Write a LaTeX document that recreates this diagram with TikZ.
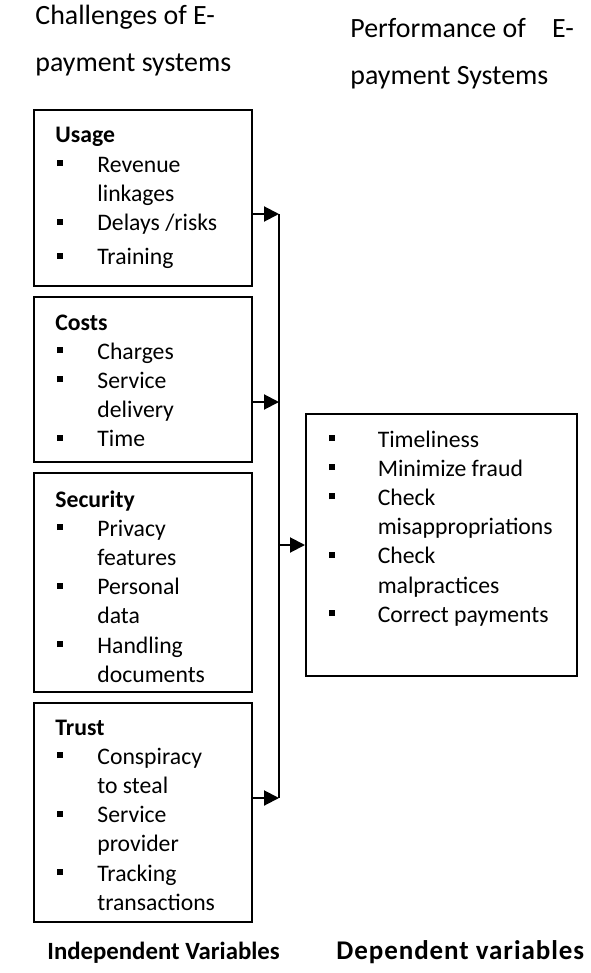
\documentclass[tikz,border=0pt]{standalone}
\usepackage{fontspec}
\setmainfont{Carlito}
\usetikzlibrary{arrows.meta}

\newcommand{\bul}[1][21pt]{\makebox[#1][l]{\hspace{1pt}\rule[3pt]{3pt}{3pt}}}
\newcommand{\cont}[1][21pt]{\hspace*{#1}}
\newcommand{\lst}[1]{\parbox[t]{140pt}{#1}}

\begin{document}
\begin{tikzpicture}[x=0.5pt, y=-0.5pt,
  box/.style={draw, line width=1pt, rectangle, inner sep=0pt, minimum width=109pt},
  txt/.style={anchor=base west, inner sep=0pt, font=\fontsize{11.85pt}{14.6pt}\selectfont},
  head/.style={anchor=base west, inner sep=0pt, font=\fontsize{13.95pt}{23.5pt}\selectfont},
  foot/.style={anchor=base west, inner sep=0pt, font=\fontsize{12.4pt}{15pt}\selectfont\bfseries},
  line/.style={line width=1pt},
  arr/.style={line width=1pt, -{Triangle[length=7.5pt, width=7.5pt]}}]

\useasboundingbox (0,0) rectangle (590,973);

% headings
\node[head] (hleft) at (35,24.5) {\lst{Challenges of E-\\ payment systems}};
\node[head] (hright) at (350,37.5) {\lst{Performance of \hspace{10pt}E-\\ payment Systems}};

% independent variables
\node[box, minimum height=88pt] (usage) at (143,198) {};
\node[box, minimum height=82.5pt] (costs) at (143,379.5) {};
\node[box, minimum height=109.5pt] (security) at (143,582.5) {};
\node[box, minimum height=109.5pt] (trust) at (143,812.5) {};

\node[txt] (usagetxt) at (55,143) {\lst{\textbf{Usage}\\
  \bul Revenue\\
  \cont linkages\\
  \bul Delays /risks\\[2.5pt]
  \bul Training}};
\node[txt] (coststxt) at (55,330) {\lst{\textbf{Costs}\\
  \bul Charges\\
  \bul Service\\
  \cont delivery\\
  \bul Time}};
\node[txt] (securitytxt) at (55,507) {\lst{\textbf{Security}\\
  \bul Privacy\\
  \cont features\\
  \bul Personal\\
  \cont data\\
  \bul Handling\\
  \cont documents}};
\node[txt] (trusttxt) at (55,735) {\lst{\textbf{Trust}\\
  \bul Conspiracy\\
  \cont to steal\\
  \bul Service\\
  \cont provider\\
  \bul Tracking\\
  \cont transactions}};

% dependent variables
\node[box, minimum width=135.5pt, minimum height=131pt] (perf) at (441.5,545) {};
\node[txt] (perftxt) at (327,447) {\lst{\bul[22.5pt] Timeliness\\
  \bul[22.5pt] Minimize fraud\\
  \bul[22.5pt] Check\\
  \cont[22.5pt] misappropriations\\
  \bul[22.5pt] Check\\
  \cont[22.5pt] malpractices\\
  \bul[22.5pt] Correct payments}};

% connectors
\coordinate (bustop) at (279,214);
\coordinate (busmid) at (279,402);
\coordinate (busbot) at (279,798);
\draw[line] (bustop) -- (busbot);
\draw[arr] (usage.east |- bustop) -- (bustop);
\draw[arr] (costs.east |- busmid) -- (busmid);
\draw[arr] (trust.east |- busbot) -- (busbot);
\draw[arr] (perf.west -| bustop) -- (perf.west);

\node[foot] (indep) at (47,959) {Independent Variables};
\node[foot, font=\fontsize{13.5pt}{15pt}\selectfont\bfseries] (dep) at (336,959) {\addfontfeature{LetterSpace=3.5}Dependent variables};

\end{tikzpicture}
\end{document}
